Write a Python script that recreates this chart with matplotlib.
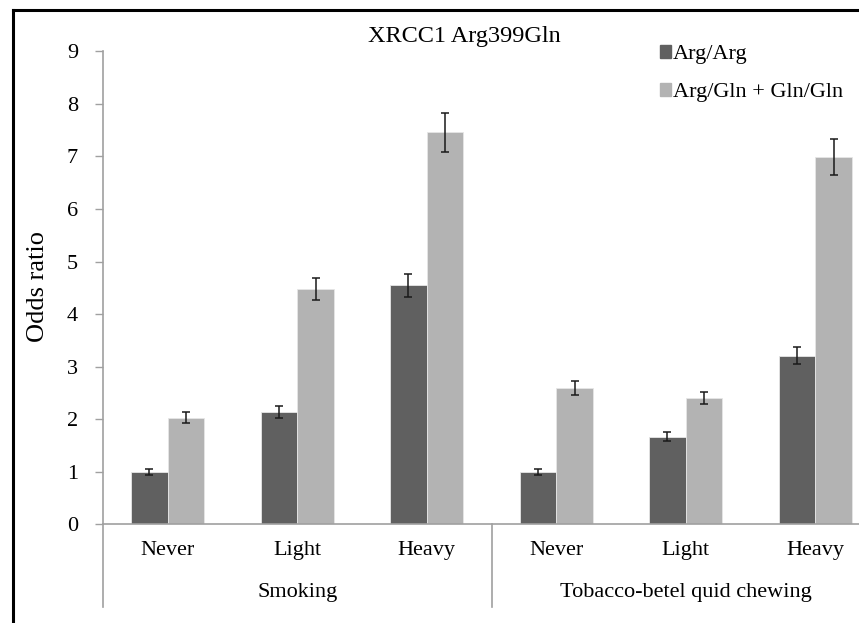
import matplotlib
matplotlib.use("Agg")
import matplotlib.pyplot as plt
from matplotlib.lines import Line2D
from matplotlib.patches import Patch
import numpy as np

plt.rcParams['font.family'] = ['Liberation Serif', 'DejaVu Serif']

# data
levels = ["Never", "Light", "Heavy", "Never", "Light", "Heavy"]
groups = ["Smoking", "Tobacco-betel quid chewing"]
series = ["Arg/Arg", "Arg/Gln + Gln/Gln"]
arg_arg = [1.00, 2.14, 4.55, 1.00, 1.67, 3.21]
arg_arg_err = [0.06, 0.11, 0.22, 0.06, 0.09, 0.16]
arg_gln = [2.03, 4.48, 7.46, 2.59, 2.40, 6.99]
arg_gln_err = [0.10, 0.21, 0.37, 0.13, 0.12, 0.35]

DARK = '#606060'
LIGHT = '#b3b3b3'
AXIS = '#a0a0a0'
FS = 16

W, H = 859, 623
fig = plt.figure(figsize=(W / 100, H / 100), dpi=100)
# axes runs past the right edge like the cropped original
ax = fig.add_axes([103 / W, 1 - 524.3 / H, 777 / W, (524.3 - 51.3) / H])

x = np.arange(len(levels)) + 0.5
bw = 0.282
err_kw = dict(ecolor='#1a1a1a', elinewidth=1.1, capsize=2.6, capthick=1.1)
ax.bar(x - bw / 2, arg_arg, bw, color=DARK, edgecolor='#e6e6e6', linewidth=0.6,
       yerr=arg_arg_err, error_kw=err_kw)
ax.bar(x + bw / 2, arg_gln, bw, color=LIGHT, edgecolor='#e6e6e6', linewidth=0.6,
       yerr=arg_gln_err, error_kw=err_kw)

ax.set_xlim(0, len(levels))
ax.set_ylim(0, 9)
ax.set_yticks(range(0, 10))
ax.tick_params(axis='y', direction='out', length=6, width=1, color=AXIS,
               labelsize=FS, pad=12)
ax.set_xticks(x)
ax.set_xticklabels(levels)
ax.tick_params(axis='x', length=0, labelsize=FS, pad=12)

for s in ['top', 'right']:
    ax.spines[s].set_visible(False)
for s in ['left', 'bottom']:
    ax.spines[s].set_color(AXIS)
    ax.spines[s].set_linewidth(1.2)

# category boundary lines below the axis
low = -(607 - 524.3) / 52.56
for xb in [0, 3]:
    ax.plot([xb, xb], [low, 0], color=AXIS, lw=1.2, clip_on=False)

for i, g in enumerate(groups):
    ax.text(1.5 + 3 * i, -(593 - 524.3) / 52.56, g, ha='center', va='center',
            fontsize=FS)

fig.text(38 / W, 1 - 287 / H, "Odds ratio", rotation=90, ha='center',
         va='center', fontsize=19)
fig.text(464 / W, 1 - 42 / H, "XRCC1 Arg399Gln", ha='center', va='baseline',
         fontsize=17.5)

handles = [Patch(color=DARK), Patch(color=LIGHT)]
fig.legend(handles, series, loc='upper left', bbox_to_anchor=(651 / W, 1 - 36 / H),
           frameon=False, fontsize=16, handlelength=0.5, handleheight=0.5,
           handletextpad=0.1, labelspacing=0.85, borderaxespad=0)

# outer frame (left and top edges visible in the crop)
fig.add_artist(Line2D([13 / W, 13 / W], [0, 1 - 10 / H], color='black', lw=2.2,
                      transform=fig.transFigure))
fig.add_artist(Line2D([13 / W, 1], [1 - 10 / H, 1 - 10 / H], color='black', lw=2.2,
                      transform=fig.transFigure))

fig.savefig("out.png", dpi=100)
